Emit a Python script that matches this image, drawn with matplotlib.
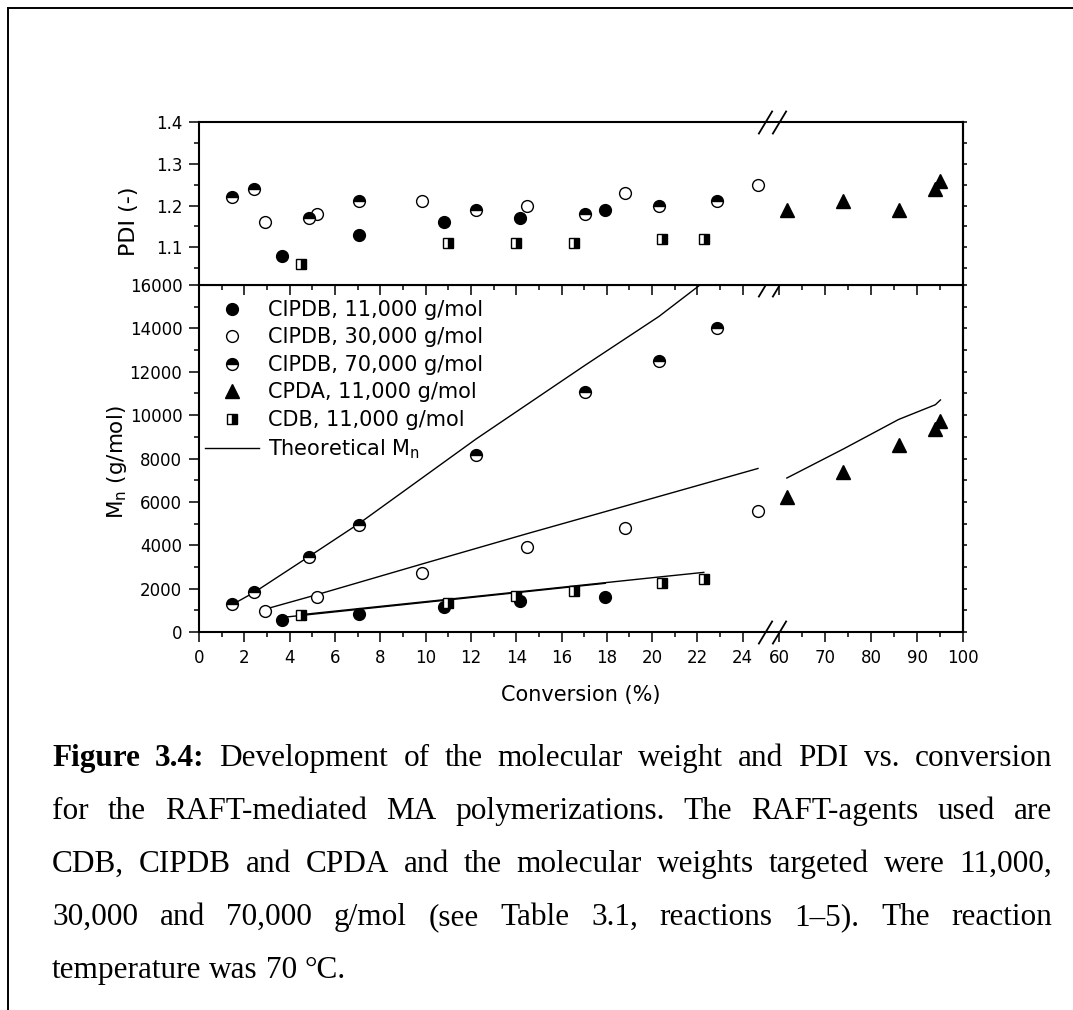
import numpy as np
import matplotlib
matplotlib.use("Agg")
import matplotlib.pyplot as plt
from matplotlib.lines import Line2D
from matplotlib.ticker import FixedLocator, NullFormatter


# DATA

conv_11k = [3.66, 7.06, 10.83, 14.17, 17.93]
pdi_11k = [1.08, 1.13, 1.16, 1.17, 1.19]
mn_11k = [550, 830, 1170, 1430, 1630]
theo_11k = [670, 1045, 1460, 1830, 2245]

conv_30k = [2.91, 5.2, 9.86, 14.47, 18.78, 24.67]
pdi_30k = [1.16, 1.18, 1.21, 1.20, 1.23, 1.25]
mn_30k = [970, 1630, 2730, 3930, 4810, 5590]
theo_30k = [1050, 1720, 3140, 4530, 5800, 7540]

conv_70k = [1.44, 2.44, 4.84, 7.06, 12.23, 17.04, 20.3, 22.86]
pdi_70k = [1.22, 1.24, 1.17, 1.21, 1.19, 1.18, 1.20, 1.21]
mn_70k = [1280, 1830, 3470, 4930, 8160, 11080, 12500, 14000]
theo_70k = [1250, 1830, 3470, 5000, 8900, 12300, 14550, 16600]

conv_cpda = [61.7, 74.0, 86.0, 94.0, 95.1]
pdi_cpda = [1.19, 1.21, 1.19, 1.24, 1.26]
mn_cpda = [6240, 7390, 8620, 9350, 9750]
theo_cpda = [7100, 8440, 9800, 10480, 10700]

conv_cdb = [4.5, 11.0, 14.0, 16.57, 20.43, 22.28]
pdi_cdb = [1.06, 1.11, 1.11, 1.11, 1.12, 1.12]
mn_cdb = [780, 1350, 1660, 1880, 2260, 2440]
theo_cdb = [800, 1510, 1840, 2125, 2550, 2750]

labels = [
    "CIPDB, 11,000 g/mol",
    "CIPDB, 30,000 g/mol",
    "CIPDB, 70,000 g/mol",
    "CPDA, 11,000 g/mol",
    "CDB, 11,000 g/mol",
    r"Theoretical M$_\mathregular{n}$",
]

x_major = [0, 2, 4, 6, 8, 10, 12, 14, 16, 18, 20, 22, 24, 60, 70, 80, 90, 100]
x_minor = [1, 3, 5, 7, 9, 11, 13, 15, 17, 19, 21, 23, 65, 75, 85, 95]

caption_lines = [
    "Figure 3.4: Development of the molecular weight and PDI vs. conversion",
    "for the RAFT-mediated MA polymerizations. The RAFT-agents used are",
    "CDB, CIPDB and CPDA and the molecular weights targeted were 11,000,",
    "30,000 and 70,000 g/mol (see Table 3.1, reactions 1\u20135). The reaction",
    "temperature was 70 \u00b0C.",
]


# BROKEN X AXIS (0-25 | 60-100)

def fwd(x):
    x = np.asarray(x, dtype=float)
    return np.where(x <= 25, x,
                    np.where(x < 60, 25 + (x - 25) * 0.6 / 35,
                             25.6 + (x - 60) * 0.203))


def inv(u):
    u = np.asarray(u, dtype=float)
    return np.where(u <= 25, u,
                    np.where(u < 25.6, 25 + (u - 25) * 35 / 0.6,
                             60 + (u - 25.6) / 0.203))


plt.rcParams["font.family"] = "DejaVu Sans"
plt.rcParams["axes.linewidth"] = 1.5

W, H = 1073, 1010
fig = plt.figure(figsize=(W / 100, H / 100), dpi=100)

left = 199 / W
width = (963 - 199) / W
ax_mn = fig.add_axes([left, 1 - 632 / H, width, 347 / H])
ax_pdi = fig.add_axes([left, 1 - 285 / H, width, 163 / H], sharex=ax_mn)

for ax in (ax_mn, ax_pdi):
    ax.set_xscale("function", functions=(fwd, inv))

circ = dict(marker="o", ms=8.5, mec="black", mew=1, ls="none")

# PDI PANEL
ax_pdi.plot(conv_11k, pdi_11k, mfc="black", **circ)
ax_pdi.plot(conv_30k, pdi_30k, mfc="white", **circ)
ax_pdi.plot(conv_70k, pdi_70k, mfc="black", fillstyle="top",
            markerfacecoloralt="white", **circ)
ax_pdi.plot(conv_cpda, pdi_cpda, marker="^", ms=10, color="black", ls="none")
ax_pdi.plot(conv_cdb, pdi_cdb, marker="s", ms=7.5, mfc="black",
            fillstyle="right", markerfacecoloralt="white", mec="black",
            mew=1, ls="none")

# MN PANEL
line_kw = dict(color="black", lw=1)
h_theo, = ax_mn.plot(conv_70k, theo_70k, **line_kw)
ax_mn.plot(conv_30k, theo_30k, **line_kw)
ax_mn.plot(conv_11k, theo_11k, **line_kw)
ax_mn.plot(conv_cdb, theo_cdb, **line_kw)
ax_mn.plot(conv_cpda, theo_cpda, **line_kw)

h1, = ax_mn.plot(conv_11k, mn_11k, mfc="black", **circ)
h2, = ax_mn.plot(conv_30k, mn_30k, mfc="white", **circ)
h3, = ax_mn.plot(conv_70k, mn_70k, mfc="black", fillstyle="top",
                 markerfacecoloralt="white", **circ)
h4, = ax_mn.plot(conv_cpda, mn_cpda, marker="^", ms=10, color="black",
                 ls="none")
h5, = ax_mn.plot(conv_cdb, mn_cdb, marker="s", ms=7.5, mfc="black",
                 fillstyle="right", markerfacecoloralt="white", mec="black",
                 mew=1, ls="none")

ax_mn.legend(
    [h1, h2, h3, h4, h5, h_theo], labels,
    loc="upper left", bbox_to_anchor=(6 / 764, 0.957),
    frameon=False, fontsize=15, handlelength=2.6, handletextpad=0.4,
    labelspacing=0.36, borderpad=0, borderaxespad=0
)

# AXES LIMITS AND TICKS
ax_mn.set_xlim(0, 100)
ax_mn.set_ylim(0, 16000)
ax_pdi.set_ylim(1.01, 1.4)

ax_mn.xaxis.set_major_locator(FixedLocator(x_major))
ax_mn.xaxis.set_minor_locator(FixedLocator(x_minor))
ax_mn.xaxis.set_major_formatter(plt.FuncFormatter(lambda v, p: "%d" % round(v)))
ax_mn.xaxis.set_minor_formatter(NullFormatter())

ax_mn.set_yticks(np.arange(0, 16001, 2000))
ax_mn.yaxis.set_minor_locator(FixedLocator(np.arange(1000, 16000, 2000)))
ax_pdi.set_yticks([1.1, 1.2, 1.3, 1.4])
ax_pdi.yaxis.set_minor_locator(FixedLocator([1.05, 1.15, 1.25, 1.35]))

for ax in (ax_mn, ax_pdi):
    ax.tick_params(which="major", length=7, width=1.1, labelsize=12,
                   direction="out", pad=5)
    ax.tick_params(which="minor", length=3.5, width=1.1, direction="out")
    ax.tick_params(axis="y", right=False)

ax_pdi.tick_params(axis="x", which="both", bottom=True, top=False,
                   labelbottom=False)
ax_mn.tick_params(axis="x", which="both", top=False)

# short ticks on the right-hand spine
for ax, step, lo, hi in ((ax_mn, 1000, 0, 16000), (ax_pdi, 0.05, 1.05, 1.4)):
    sec = ax.secondary_yaxis("right")
    sec.set_yticks(np.arange(lo, hi + step / 2, step))
    sec.tick_params(length=3, width=1.1, direction="out", labelright=False)
    sec.spines["right"].set_linewidth(1.5)

# AXIS BREAK MARKS
slash = [(-0.6, -1), (0.6, 1)]
for ax, yv in ((ax_mn, 0), (ax_mn, 16000), (ax_pdi, 1.4)):
    ax.plot([25, 60], [yv, yv], ls="none", marker=slash, ms=17,
            mec="black", mew=1.3, clip_on=False, zorder=5)

# LABELS
ax_mn.set_xlabel("Conversion (%)", fontsize=15, labelpad=13)
ax_pdi.text(-0.0916, 0.393, "PDI (-)", transform=ax_pdi.transAxes,
            rotation=90, ha="center", va="center", fontsize=16)
ax_mn.text(-0.107, 0.49, r"M$_\mathregular{n}$ (g/mol)",
           transform=ax_mn.transAxes, rotation=90, ha="center",
           va="center", fontsize=15.5)

# PAGE BORDER
fig.add_artist(Line2D([8 / W, 8 / W], [0, 1 - 8 / H], color="black",
                      lw=1.4, transform=fig.transFigure))
fig.add_artist(Line2D([8 / W, 1], [1 - 8 / H, 1 - 8 / H], color="black",
                      lw=1.4, transform=fig.transFigure))

# CAPTION (justified)
cap_size = 22.5
cap_kw = dict(family="Liberation Serif", fontsize=cap_size, va="baseline",
              ha="left")
x0, x1 = 52, 1052
baselines = [766, 819, 872, 925, 978]

fig.canvas.draw()
renderer = fig.canvas.get_renderer()

for i, line in enumerate(caption_lines):
    words = line.split(" ")
    texts = []
    for j, w in enumerate(words):
        bold = (i == 0 and j < 2)
        t = fig.text(0, 1 - baselines[i] / H, w,
                     fontweight="bold" if bold else "normal", **cap_kw)
        texts.append(t)
    widths = [t.get_window_extent(renderer).width for t in texts]
    if i < len(caption_lines) - 1:
        gap = (x1 - x0 - sum(widths)) / (len(words) - 1)
    else:
        gap = 0.25 * cap_size * 100 / 72
    x = x0
    for t, w in zip(texts, widths):
        t.set_x(x / W)
        x += w + gap

fig.savefig("out.png", dpi=100)
